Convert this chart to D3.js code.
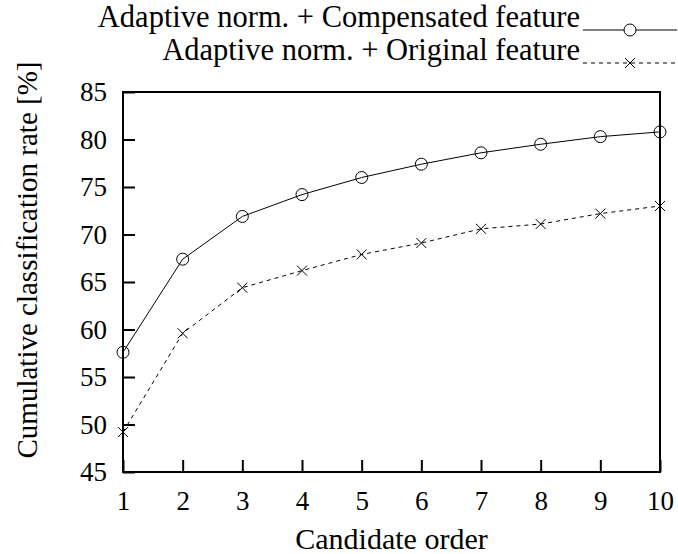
<!DOCTYPE html>
<html>
<head>
<meta charset="utf-8">
<script src="https://cdn.jsdelivr.net/npm/d3@7"></script>
<style>
  body { margin: 0; background: #fff; }
</style>
</head>
<body>
<svg id="chart" width="678" height="554"></svg>
<script>
var svg_w = 678;
var svg_h = 554;
var FONT = 'Liberation Serif';

var orders = [1, 2, 3, 4, 5, 6, 7, 8, 9, 10];
var compensated = [57.6, 67.4, 71.9, 74.2, 76.0, 77.4, 78.6, 79.5, 80.3, 80.8];
var original = [49.2, 59.6, 64.4, 66.2, 67.9, 69.1, 70.6, 71.1, 72.2, 73.0];
var yTicks = [45, 50, 55, 60, 65, 70, 75, 80, 85];
var seriesNames = ["Adaptive norm. + Compensated feature", "Adaptive norm. + Original feature"];

var margin = {left: 123, right: 18, top: 92, bottom: 82};

var svg = d3.select('#chart');
var w = svg_w - margin.left - margin.right,
    h = svg_h - margin.top - margin.bottom;

var x = d3.scaleLinear().domain([1, 10]).range([0, w]);
var y = d3.scaleLinear().domain([45, 85]).range([h, 0]);

var g = svg.append('g')
    .attr('transform', 'translate(' + margin.left + ',' + margin.top + ')');

// axes, ticks pointing inward
var xAxis = d3.axisBottom(x).tickValues(orders).tickSize(-12).tickPadding(38).tickFormat(d3.format('d'));
var yAxis = d3.axisLeft(y).tickValues(yTicks).tickSize(-12).tickPadding(16);

var gx = g.append('g').attr('transform', 'translate(0,' + h + ')').call(xAxis);
var gy = g.append('g').call(yAxis);
[gx, gy].forEach(function(a) {
    a.select('.domain').remove();
    a.selectAll('.tick line').attr('stroke', '#000').attr('stroke-width', 2);
    a.selectAll('.tick text')
        .style('font-family', FONT)
        .style('font-size', '27px')
        .attr('fill', '#000');
});
gx.selectAll('.tick text').attr('dy', '0');
gy.selectAll('.tick text').attr('dy', '0.33em');

// frame
g.append('rect')
    .attr('x', 0).attr('y', 0)
    .attr('width', w).attr('height', h)
    .attr('fill', 'none')
    .attr('stroke', '#000')
    .attr('stroke-width', 2);

var line = d3.line()
    .x(function(d, i) { return x(orders[i]); })
    .y(function(d) { return y(d); });

g.append('path')
    .datum(compensated)
    .attr('d', line)
    .attr('fill', 'none')
    .attr('stroke', '#000')
    .attr('stroke-width', 1);

g.append('path')
    .datum(original)
    .attr('d', line)
    .attr('fill', 'none')
    .attr('stroke', '#000')
    .attr('stroke-width', 1)
    .attr('stroke-dasharray', '4,4');

function crossPath(cx, cy, s) {
    return 'M' + (cx - s) + ',' + (cy - s) + 'L' + (cx + s) + ',' + (cy + s) +
           'M' + (cx - s) + ',' + (cy + s) + 'L' + (cx + s) + ',' + (cy - s);
}

g.selectAll('circle.comp')
    .data(compensated)
    .enter()
    .append('circle')
    .attr('class', 'comp')
    .attr('cx', function(d, i) { return x(orders[i]); })
    .attr('cy', function(d) { return y(d); })
    .attr('r', 6)
    .attr('fill', 'none')
    .attr('stroke', '#000')
    .attr('stroke-width', 1);

g.selectAll('path.orig')
    .data(original)
    .enter()
    .append('path')
    .attr('class', 'orig')
    .attr('d', function(d, i) { return crossPath(x(orders[i]), y(d), 5); })
    .attr('stroke', '#000')
    .attr('stroke-width', 1);

// axis titles
svg.append('text')
    .attr('x', margin.left + w / 2)
    .attr('y', 549)
    .attr('text-anchor', 'middle')
    .style('font-family', FONT)
    .style('font-size', '30px')
    .text('Candidate order');

svg.append('text')
    .attr('transform', 'translate(37,260) rotate(-90)')
    .attr('text-anchor', 'middle')
    .style('font-family', FONT)
    .style('font-size', '29px')
    .text('Cumulative classification rate [%]');

// legend
var leg = svg.append('g');
var legRows = [{y: 30, dash: null, marker: 'circle'}, {y: 63, dash: '4,4', marker: 'cross'}];
legRows.forEach(function(r, i) {
    leg.append('text')
        .attr('x', 580)
        .attr('y', r.y - 3)
        .attr('text-anchor', 'end')
        .style('font-family', FONT)
        .style('font-size', '30.5px')
        .text(seriesNames[i]);
    leg.append('line')
        .attr('x1', 583).attr('x2', 677)
        .attr('y1', r.y).attr('y2', r.y)
        .attr('stroke', '#000')
        .attr('stroke-width', 1)
        .attr('stroke-dasharray', r.dash);
    if (r.marker == 'circle') {
        leg.append('circle')
            .attr('cx', 630).attr('cy', r.y).attr('r', 6)
            .attr('fill', '#fff').attr('stroke', '#000');
    } else {
        leg.append('path')
            .attr('d', crossPath(630, r.y, 5))
            .attr('stroke', '#000');
    }
});
</script>
</body>
</html>
